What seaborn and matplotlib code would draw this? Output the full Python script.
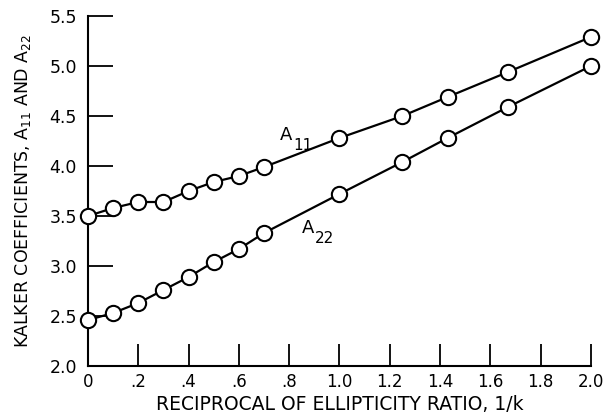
import matplotlib
matplotlib.use("Agg")
import matplotlib.pyplot as plt
import seaborn as sns
import pandas as pd

# Reciprocal of ellipticity ratio, 1/k
inv_k = [0.0, 0.1, 0.2, 0.3, 0.4, 0.5, 0.6, 0.7, 1.0, 1.25, 1.43, 1.67, 2.0]
# Kalker coefficients
a11 = [3.50, 3.58, 3.64, 3.64, 3.75, 3.84, 3.90, 3.99, 4.28, 4.50, 4.69, 4.94, 5.29]
a22 = [2.46, 2.53, 2.63, 2.76, 2.89, 3.04, 3.17, 3.33, 3.72, 4.04, 4.28, 4.59, 5.00]

x_ticks = [0, 0.2, 0.4, 0.6, 0.8, 1.0, 1.2, 1.4, 1.6, 1.8, 2.0]
x_tick_labels = ["0", ".2", ".4", ".6", ".8", "1.0", "1.2", "1.4", "1.6", "1.8", "2.0"]
y_ticks = [2.0, 2.5, 3.0, 3.5, 4.0, 4.5, 5.0, 5.5]
y_tick_labels = ["2.0", "2.5", "3.0", "3.5", "4.0", "4.5", "5.0", "5.5"]

df = pd.DataFrame({"inv_k": inv_k * 2,
                   "coef": a11 + a22,
                   "series": ["A11"] * len(a11) + ["A22"] * len(a22)})

sns.set_style("ticks")
plt.rcParams["font.family"] = ["DejaVu Sans"]
plt.rcParams["text.color"] = "black"
plt.rcParams["axes.labelcolor"] = "black"

fig = plt.figure(figsize=(6.03, 4.18), dpi=100)
ax = fig.add_axes([0.146, 0.1244, 0.834, 0.8373])

for name in ["A11", "A22"]:
    sub = df[df["series"] == name]
    sns.lineplot(data=sub, x="inv_k", y="coef", ax=ax, sort=False,
                 color="black", linewidth=1.6, marker="o", markersize=11,
                 markerfacecolor="white", markeredgecolor="black",
                 markeredgewidth=1.5, clip_on=False, zorder=3)

ax.set_xlim(0, 2.0)
ax.set_ylim(2.0, 5.5)
ax.set_xticks(x_ticks)
ax.set_xticklabels(x_tick_labels)
ax.set_yticks(y_ticks)
ax.set_yticklabels(y_tick_labels)
ax.tick_params(axis="x", direction="in", length=16, width=1.3, pad=5,
               labelsize=12, colors="black")
ax.tick_params(axis="y", direction="in", length=18, width=1.3, pad=8,
               labelsize=12.5, colors="black")
sns.despine(ax=ax)
for s in ["left", "bottom"]:
    ax.spines[s].set_linewidth(1.5)
    ax.spines[s].set_color("black")

ax.set_xlabel("RECIPROCAL OF ELLIPTICITY RATIO, 1/k", fontsize=13.5, labelpad=3)
ax.set_ylabel(r"KALKER COEFFICIENTS, A$_{11}$ AND A$_{22}$", fontsize=12.5, labelpad=12)

# curve labels: letter plus a large subscript
for (lx, ly, sub) in [(0.763, 4.26, "11"), (0.85, 3.33, "22")]:
    ax.text(lx, ly, "A", fontsize=13, ha="left", va="baseline")
    ax.annotate(sub, xy=(lx, ly), xytext=(9.5, -7.5), textcoords="offset points",
                fontsize=11, ha="left", va="baseline")

fig.savefig("out.png", dpi=100, facecolor="white")
